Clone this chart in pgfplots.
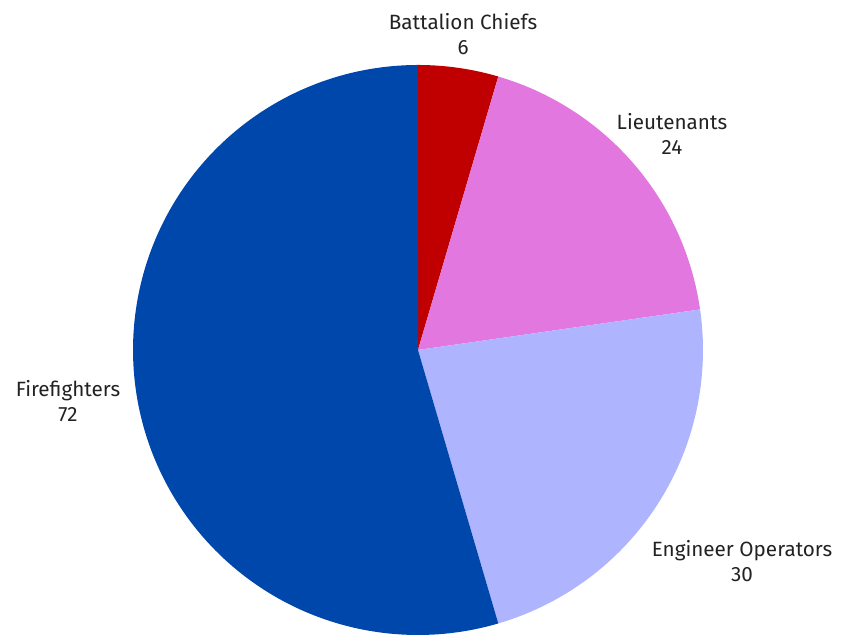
\documentclass[border=0pt]{standalone}
\usepackage{pgfplots}
\pgfplotsset{compat=1.18}
\usepackage{fontspec}
\setmainfont{Fira Sans}
\definecolor{cBC}{HTML}{C00000}
\definecolor{cLT}{HTML}{E377E0}
\definecolor{cEO}{HTML}{AFB4FF}
\definecolor{cFF}{HTML}{0047AB}
\definecolor{txt}{HTML}{222222}
% data
\def\vBC{6}
\def\vLT{24}
\def\vEO{30}
\def\vFF{72}
\pgfmathsetmacro{\total}{\vBC+\vLT+\vEO+\vFF}
\pgfmathsetmacro{\aA}{90}
\pgfmathsetmacro{\aB}{\aA-360/\total*\vBC}
\pgfmathsetmacro{\aC}{\aB-360/\total*\vLT}
\pgfmathsetmacro{\aD}{\aC-360/\total*\vEO}
\pgfmathsetmacro{\aE}{\aD-360/\total*\vFF}
\begin{document}
\begin{tikzpicture}
\begin{axis}[
  width=634.5pt, height=476.25pt, scale only axis,
  xmin=-1.4667, xmax=1.5018, ymin=-1.0, ymax=1.228,
  hide axis, clip=false,
]
\addplot[fill=cBC, draw=none, domain=\aB:\aA, samples=20, variable=\t] ({cos(\t)},{sin(\t)}) -- (axis cs:0,0) -- cycle;
\addplot[fill=cLT, draw=none, domain=\aC:\aB, samples=60, variable=\t] ({cos(\t)},{sin(\t)}) -- (axis cs:0,0) -- cycle;
\addplot[fill=cEO, draw=none, domain=\aD:\aC, samples=70, variable=\t] ({cos(\t)},{sin(\t)}) -- (axis cs:0,0) -- cycle;
\addplot[fill=cFF, draw=none, domain=\aE:\aD, samples=160, variable=\t] ({cos(\t)},{sin(\t)}) -- (axis cs:0,0) -- cycle;
\path[draw=none] (rel axis cs:0,0) rectangle (rel axis cs:1,1);
\begin{scope}[every node/.style={align=center, text=txt, inner sep=0pt, font=\fontsize{15.5}{19}\selectfont}]
\node at (axis cs:0.158,1.109) {Battalion Chiefs\\\vBC};
\node at (axis cs:0.891,0.758) {Lieutenants\\\vLT};
\node at (axis cs:-1.228,-0.179) {Firefighters\\\vFF};
\node at (axis cs:1.137,-0.740) {Engineer Operators\\\vEO};
\end{scope}
\end{axis}
\end{tikzpicture}
\end{document}
